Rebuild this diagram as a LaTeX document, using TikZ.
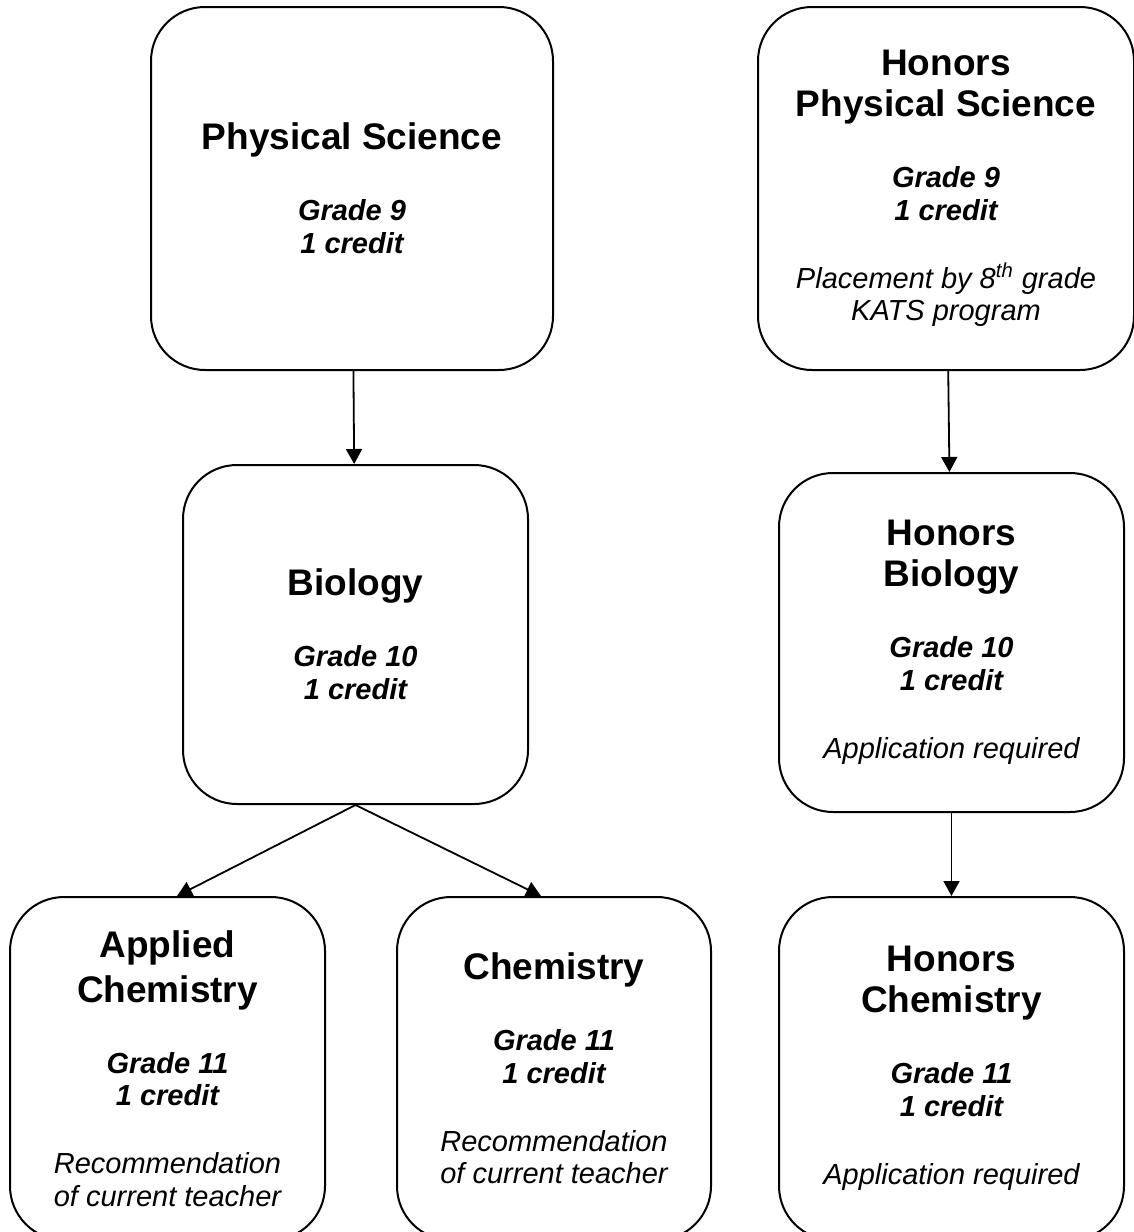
\documentclass[tikz,border=0pt]{standalone}
\usepackage{fontspec}
\setmainfont{Liberation Sans}
\usetikzlibrary{arrows.meta}

\newcommand{\coursename}{\fontsize{18.5}{16.3}\selectfont\bfseries}
\newcommand{\gradeline}{\fontsize{14.5}{16.3}\selectfont\bfseries\itshape}
\newcommand{\noteline}{\fontsize{14.5}{16.3}\selectfont\mdseries\itshape}

\begin{document}
\begin{tikzpicture}[x=0.5pt, y=-0.5pt, line width=0.9pt,
        main/.style = {draw, line width=1pt, rounded corners=27pt, align=center, inner sep=0pt,
            font=\fontsize{14.5}{16.3}\selectfont},
        >={Triangle[length=7.5pt, width=8pt]}]
        \useasboundingbox (0,0) rectangle (1134,1232);
        \clip (0,0) rectangle (1134,1232);
        % left track
        \node[main, minimum width=201pt, minimum height=181.5pt] (ps) at (352,188.5)
            {\coursename Physical Science\\[19.2pt]\gradeline Grade 9\\\gradeline 1 credit};
        \node[main, minimum width=172.5pt, minimum height=169.5pt] (bio) at (355.5,634.5)
            {\coursename Biology\\[19.2pt]\gradeline Grade 10\\\gradeline 1 credit};
        \node[main, minimum width=157.5pt, minimum height=171.5pt] (appchem) at (167.5,1068.5)
            {\coursename Applied\\[4.2pt]\coursename Chemistry\\[19.2pt]\gradeline Grade 11\\\gradeline 1 credit\\[17.7pt]\noteline Recommendation\\\noteline of current teacher};
        \node[main, minimum width=157pt, minimum height=171.5pt] (chem) at (554,1068.5)
            {\coursename Chemistry\\[19.2pt]\gradeline Grade 11\\\gradeline 1 credit\\[17.7pt]\noteline Recommendation\\\noteline of current teacher};
        % honors track
        \node[main, minimum width=188pt, minimum height=181.5pt] (hps) at (946,188.5)
            {\coursename Honors\\[4.2pt]\coursename Physical Science\\[19.2pt]\gradeline Grade 9\\\gradeline 1 credit\\[17.7pt]\noteline Placement by 8\textsuperscript{th} grade\\\noteline KATS program};
        \node[main, minimum width=172.5pt, minimum height=169.5pt] (hbio) at (951.5,642.5)
            {\coursename Honors\\[4.2pt]\coursename Biology\\[19.2pt]\gradeline Grade 10\\\gradeline 1 credit\\[17.7pt]\noteline Application required};
        \node[main, minimum width=172.5pt, minimum height=171.5pt] (hchem) at (951.5,1068.5)
            {\coursename Honors\\[4.2pt]\coursename Chemistry\\[19.2pt]\gradeline Grade 11\\\gradeline 1 credit\\[17.7pt]\noteline Application required};
        \draw[->] (ps) -- (bio);
        \draw[->] (bio.south) -- ([xshift=4.75pt]appchem.north);
        \draw[->] (bio.south) -- ([xshift=-6.5pt]chem.north);
        \draw[->] (hps) -- (hbio);
        \draw[->] (hbio) -- (hchem);
    \end{tikzpicture}
\end{document}
